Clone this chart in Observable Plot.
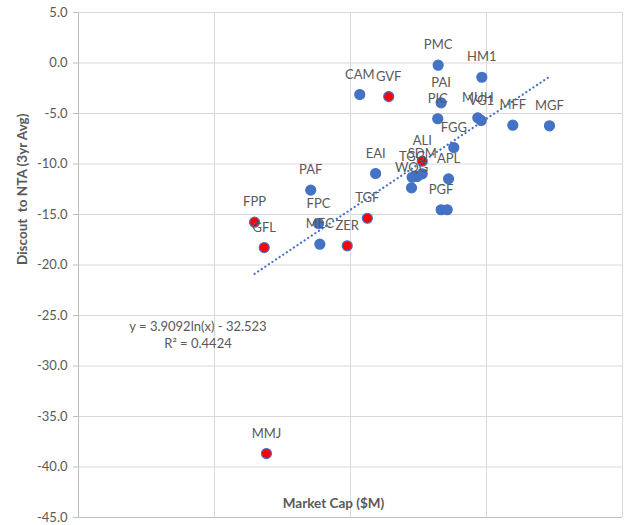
<!DOCTYPE html>
<html>
<head>
<meta charset="utf-8">
<script src="https://cdn.jsdelivr.net/npm/d3@7"></script>
<script src="https://cdn.jsdelivr.net/npm/@observablehq/plot@0.6"></script>
<style>
  html, body { margin: 0; padding: 0; background: #fff; }
  #chart svg { display: block; font-family: Lato, "Open Sans", sans-serif; }
</style>
</head>
<body>
<div id="chart"></div>
<script>
const names = ["PMC","HM1","CAM","GVF","PAI","PIC","MUH","VG1","MFF","MGF","FGG","ALI","SDM","","TGG","WQG","APL","EAI","PAF","PGF","","FPP","GFL","FPC","MEC","ZER","TGF","MMJ"];
const marketCap = [441,924,117,191,464,438,863,914,1561,2905,575,337,337,309,284,281,526,153,51,464,514,19.7,23.2,58.2,59.5,94.6,133,24.1];
const discount = [-0.22,-1.41,-3.12,-3.32,-3.94,-5.52,-5.43,-5.69,-6.16,-6.22,-8.37,-9.72,-10.97,-11.24,-11.31,-12.36,-11.47,-10.94,-12.59,-14.53,-14.53,-15.76,-18.27,-15.89,-17.94,-18.1,-15.37,-38.67];
const highlighted = [0,0,0,1,0,0,0,0,0,0,0,1,0,0,0,0,0,0,0,0,0,1,1,0,0,1,1,1];
const yTicks = [-45,-40,-35,-30,-25,-20,-15,-10,-5,0,5];
const xGrid = [1,10,100,1000,10000];
const trendSlope = 3.9092, trendIntercept = -32.523, trendR2 = 0.4424;

const data = names.map((n,i) => ({name:n, cap:marketCap[i], disc:discount[i], red:highlighted[i]===1}));
const xmin = d3.min(marketCap), xmax = d3.max(marketCap);
const trend = d3.range(0, 101).map(k => {
  const x = Math.exp(Math.log(xmin) + (Math.log(xmax)-Math.log(xmin))*k/100);
  return {x, y: trendSlope*Math.log(x) + trendIntercept};
});

const blue = "#4472C4", gray = "#595959";
const chart = Plot.plot({
  width: 624, height: 525,
  marginLeft: 78, marginRight: 2, marginTop: 12, marginBottom: 8,
  style: {fontSize: "13px", color: gray, background: "#fff"},
  x: {type: "log", domain: [1, 10000], axis: null},
  y: {domain: [-45, 5], axis: null},
  marks: [
    Plot.gridX(xGrid, {stroke: "#d9d9d9", strokeOpacity: 1, strokeWidth: 1}),
    Plot.gridY(yTicks, {stroke: "#d9d9d9", strokeOpacity: 1, strokeWidth: 1}),
    Plot.ruleX([1], {stroke: "#bfbfbf"}),
    Plot.ruleY([-45], {stroke: "#bfbfbf"}),
    Plot.axisY(yTicks, {tickFormat: d => d.toFixed(1), tickSize: 5, tickPadding: 6, stroke: "#bfbfbf", fill: gray, fontSize: 13, label: null}),
    Plot.text(["Discout  to NTA (3yr Avg)"], {frameAnchor: "left", dx: -56, rotate: -90, fontWeight: "bold", fill: gray, fontSize: 13.5}),
    Plot.text(["Market Cap ($M)"], {frameAnchor: "bottom", dx: -17, dy: -10, fontWeight: "bold", fill: gray, fontSize: 13.5}),
    Plot.line(trend, {x: "x", y: "y", stroke: blue, strokeWidth: 2.2, strokeDasharray: "0.1 4.2", strokeLinecap: "round"}),
    Plot.dot(data, {x: "cap", y: "disc", r: 5, fill: d => d.red ? "#FF0000" : blue, stroke: blue, strokeWidth: 1.2}),
    Plot.text(data, {x: "cap", y: "disc", text: "name", dy: -20, fill: gray, fontSize: 13}),
    Plot.text([`y = ${trendSlope}ln(x) - ${-trendIntercept}\nR² = ${trendR2}`], {x: 7.56, y: -26.8, fill: gray, fontSize: 13, lineHeight: 1.3})
  ]
});
document.getElementById("chart").appendChild(chart);
</script>
</body>
</html>
